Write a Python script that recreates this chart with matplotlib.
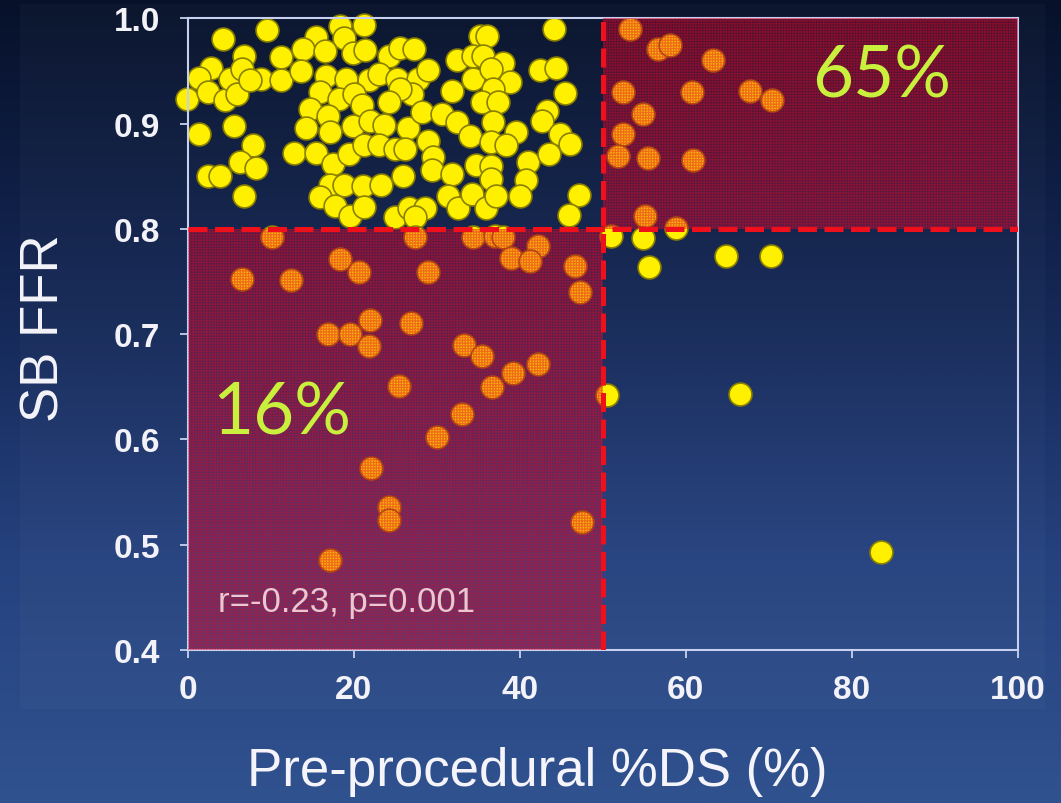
import numpy as np
import matplotlib
matplotlib.use('Agg')
import matplotlib.pyplot as plt
from matplotlib.patches import Rectangle
from matplotlib.colors import LinearSegmentedColormap

# ---- data: pre-procedural %DS (x) and SB FFR (y) ----
# dense cluster, %DS < 50 and FFR > 0.8
cluster_ds = [4.3, 9.6, 18.3, 21.3, 15.4, 18.8, 44.1, 35.2, 36.1, 13.9, 16.5, 19.9, 21.4, 24.2,
              25.6, 27.3, 32.5, 34.4, 35.6, 38.0, 42.4, 44.4, 6.8, 11.3, 2.8, 1.4, -0.1, 2.4,
              4.5, 5.1, 6.6, 5.9, 8.8, 7.5, 11.3, 13.7, 16.7, 19.1, 21.9, 23.1, 25.2, 27.8,
              29.0, 27.0, 25.6, 24.2, 31.9, 34.4, 36.6, 38.8, 36.8, 35.4, 37.4, 45.5, 43.3,
              42.7, 44.8, 46.0, 15.9, 18.2, 20.0, 21.0, 14.7, 16.9, 14.3, 17.1, 19.9, 22.0,
              23.6, 26.6, 28.2, 30.6, 32.4, 34.0, 36.8, 39.6, 36.6, 38.4, 1.4, 5.6, 7.9, 6.3,
              8.2, 2.4, 3.9, 6.8, 12.8, 15.5, 17.5, 19.4, 21.3, 23.0, 25.0, 26.2, 29.0, 29.6,
              29.4, 31.8, 34.7, 36.6, 36.6, 41.0, 40.8, 43.5, 17.1, 18.8, 21.1, 23.3, 26.0,
              15.9, 17.8, 19.6, 21.2, 25.0, 26.7, 28.6, 27.4, 31.4, 32.6, 34.2, 36.0, 37.2,
              40.0, 47.2, 45.9]
cluster_ffr = [0.980, 0.989, 0.993, 0.994, 0.982, 0.981, 0.990, 0.983, 0.983, 0.971, 0.969, 0.967,
               0.970, 0.964, 0.972, 0.971, 0.960, 0.964, 0.964, 0.957, 0.951, 0.953, 0.964, 0.963,
               0.953, 0.943, 0.923, 0.930, 0.922, 0.942, 0.952, 0.928, 0.942, 0.941, 0.941, 0.950,
               0.945, 0.942, 0.941, 0.947, 0.942, 0.942, 0.951, 0.928, 0.933, 0.920, 0.931, 0.942,
               0.952, 0.939, 0.933, 0.920, 0.920, 0.929, 0.912, 0.902, 0.890, 0.881, 0.930, 0.923,
               0.928, 0.918, 0.914, 0.907, 0.896, 0.892, 0.898, 0.902, 0.899, 0.896, 0.911, 0.909,
               0.901, 0.888, 0.901, 0.892, 0.882, 0.880, 0.890, 0.898, 0.880, 0.863, 0.858, 0.850,
               0.850, 0.831, 0.872, 0.872, 0.862, 0.871, 0.880, 0.880, 0.876, 0.876, 0.883, 0.868,
               0.856, 0.852, 0.861, 0.860, 0.847, 0.863, 0.846, 0.871, 0.842, 0.842, 0.841, 0.842,
               0.850, 0.830, 0.822, 0.812, 0.821, 0.811, 0.820, 0.820, 0.811, 0.831, 0.820, 0.833,
               0.820, 0.831, 0.831, 0.832, 0.813]

# %DS < 50, FFR <= 0.8 (lower-left shaded quadrant)
lowleft_ds = [10.1, 18.3, 20.6, 6.5, 12.5, 29.0, 27.4, 34.4, 37.0, 38.0, 42.2, 39.0, 41.2, 46.7,
              47.3, 22.0, 16.9, 19.6, 21.8, 26.9, 33.3, 35.4, 39.2, 42.2, 36.7, 25.5, 33.0, 30.0,
              22.1, 24.2, 24.2, 47.5, 17.1]
lowleft_ffr = [0.792, 0.771, 0.759, 0.752, 0.751, 0.759, 0.792, 0.792, 0.793, 0.792, 0.784, 0.772,
               0.769, 0.765, 0.740, 0.713, 0.700, 0.700, 0.689, 0.711, 0.690, 0.679, 0.663, 0.672,
               0.650, 0.651, 0.624, 0.602, 0.573, 0.536, 0.523, 0.522, 0.485]

# %DS >= 50, FFR > 0.8 (upper-right shaded quadrant)
upright_ds = [53.3, 56.7, 58.1, 63.3, 52.4, 60.7, 67.7, 70.4, 54.9, 52.4, 51.8, 55.5, 60.9, 55.1, 58.8]
upright_ffr = [0.990, 0.971, 0.975, 0.960, 0.930, 0.930, 0.931, 0.922, 0.909, 0.890, 0.869, 0.867,
               0.865, 0.812, 0.801]

# %DS >= 50, FFR <= 0.8
lowright_ds = [51.0, 54.8, 55.6, 64.9, 70.3, 50.5, 66.6, 83.5]
lowright_ffr = [0.793, 0.791, 0.764, 0.774, 0.774, 0.642, 0.643, 0.493]

x_ticks = [0, 20, 40, 60, 80, 100]
y_ticks = [0.4, 0.5, 0.6, 0.7, 0.8, 0.9, 1.0]
ds_cut = 50
ffr_cut = 0.8

ds = np.concatenate([cluster_ds, lowleft_ds, upright_ds, lowright_ds])
ffr = np.concatenate([cluster_ffr, lowleft_ffr, upright_ffr, lowright_ffr])

plt.rcParams['hatch.linewidth'] = 0.9

fig = plt.figure(figsize=(10.61, 8.04), dpi=100)

# background gradient
bg = fig.add_axes([0, 0, 1, 1], zorder=-10)
grad = np.linspace(0, 1, 512).reshape(-1, 1)
cmap = LinearSegmentedColormap.from_list(
    'bg', [(0.0, '#07112a'), (0.35, '#132552'), (0.7, '#25427f'), (1.0, '#30528f')])
bg.imshow(grad, aspect='auto', cmap=cmap, extent=[0, 1, 0, 1], origin='upper')
bg.add_patch(Rectangle((20 / 1061, 1 - 710 / 804), 1025 / 1061, 705 / 804,
                       facecolor=(1, 1, 1, 0.025), edgecolor='none'))
bg.set_xlim(0, 1)
bg.set_ylim(0, 1)
bg.axis('off')

ax = fig.add_axes([0.1769, 0.1903, 0.7823, 0.7858])
ax.patch.set_alpha(0)

ax.scatter(ds, ffr, s=270, c='#fff000', edgecolors='#8a8000', linewidths=1.2,
           zorder=2, clip_on=False)

shade_kw = dict(facecolor=(0.85, 0.02, 0.2, 0.24), edgecolor=(0.9, 0.03, 0.15, 0.42),
                hatch='++++++', lw=0, zorder=3)
ax.add_patch(Rectangle((0, 0.4), ds_cut, ffr_cut - 0.4, **shade_kw))
ax.add_patch(Rectangle((ds_cut, ffr_cut), 100 - ds_cut, 1.0 - ffr_cut, **shade_kw))

ax.plot([ds_cut, ds_cut], [0.4, 1.0], color='#f0101c', lw=3.6, dashes=(3.8, 1.5),
        zorder=5, solid_capstyle='butt')
ax.plot([0, 100], [ffr_cut, ffr_cut], color='#f0101c', lw=3.6, dashes=(3.8, 1.5),
        zorder=5, solid_capstyle='butt')

ax.text(83.6, 0.945, '65%', color='#c8f03c', fontsize=51, family='Lato',
        ha='center', va='center', zorder=6)
ax.text(3.0, 0.625, '16%', color='#c8f03c', fontsize=51, family='Lato',
        ha='left', va='center', zorder=6)
ax.text(3.6, 0.437, 'r=-0.23, p=0.001', color='#ecc6d0', fontsize=25,
        family='Liberation Sans', ha='left', va='baseline', zorder=6)

ax.set_xlim(0, 100)
ax.set_ylim(0.4, 1.0)
ax.set_xticks(x_ticks)
ax.set_yticks(y_ticks)
ax.set_xticklabels([str(v) for v in x_ticks])
ax.set_yticklabels([f'{v:.1f}' for v in y_ticks])
for lab in ax.get_xticklabels() + ax.get_yticklabels():
    lab.set_family('Liberation Sans')
    lab.set_fontweight('bold')
    lab.set_fontsize(24)
    lab.set_color('#f2f2f8')
ax.tick_params(axis='both', direction='out', length=6, width=1.3, color='#c8d0f0')
ax.tick_params(axis='x', pad=11)
ax.tick_params(axis='y', pad=14)
for sp in ax.spines.values():
    sp.set_color('#c8d0f0')
    sp.set_linewidth(1.5)

fig.text(537 / 1061, 1 - 772 / 804, 'Pre-procedural %DS (%)', color='#f4f4fa', fontsize=38,
         family='Liberation Sans', ha='center', va='center')
fig.text(45 / 1061, 1 - 328 / 804, 'SB FFR', color='#f4f4fa', fontsize=38,
         family='Liberation Sans', ha='center', va='center', rotation=90)

fig.savefig('out.png', dpi=100)
